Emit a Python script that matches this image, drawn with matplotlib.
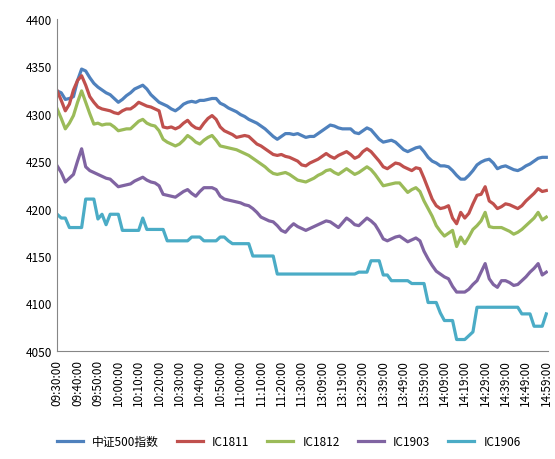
import matplotlib
matplotlib.use("Agg")
import matplotlib.pyplot as plt

plt.rcParams['font.family'] = ['Noto Sans CJK SC', 'DejaVu Sans']

times = ([f"{h:02d}:{m:02d}:00" for h in (9, 10, 11) for m in range(0, 60, 2)
          if (h, m) >= (9, 30) and (h, m) <= (11, 30)] +
         [f"{h:02d}:{m:02d}:00" for h in (13, 14) for m in range(1, 60, 2)])

zz500 = [4324,4322,4315,4316,4318,4335,4347,4345,4338,4332,
         4328,4325,4322,4320,4316,4312,4315,4319,4322,4326,
         4328,4330,4326,4320,4316,4312,4310,4308,4305,4303,
         4306,4310,4312,4313,4312,4314,4314,4315,4316,4316,
         4311,4309,4306,4304,4302,4299,4297,4294,4292,4290,
         4287,4284,4280,4276,4273,4276,4279,4279,4278,4279,
         4277,4275,4276,4276,4279,4282,4285,4288,4287,4285,
         4284,4284,4284,4280,4279,4282,4285,4283,4278,4273,
         4270,4271,4272,4270,4266,4262,4260,4262,4264,4265,
         4260,4254,4250,4248,4245,4245,4244,4240,4235,4231,
         4231,4235,4240,4246,4249,4251,4252,4248,4242,4244,
         4245,4243,4241,4240,4242,4245,4247,4250,4253,4254,4254]
ic1811 = [4324,4314,4303,4310,4325,4335,4340,4330,4318,4312,
          4307,4305,4304,4303,4301,4300,4303,4305,4305,4308,
          4312,4310,4308,4307,4305,4303,4286,4285,4286,4284,
          4286,4290,4293,4288,4285,4284,4290,4295,4298,4294,
          4286,4282,4280,4278,4275,4276,4277,4276,4272,4268,
          4266,4263,4260,4257,4256,4257,4255,4254,4252,4250,
          4246,4245,4248,4250,4252,4255,4258,4255,4253,4256,
          4258,4260,4257,4253,4255,4260,4263,4260,4255,4250,
          4244,4242,4245,4248,4247,4244,4242,4240,4243,4242,
          4232,4221,4210,4203,4200,4201,4203,4190,4184,4196,
          4190,4195,4205,4214,4215,4223,4208,4205,4200,4202,
          4205,4204,4202,4200,4203,4208,4212,4216,4221,4218,4219]
ic1812 = [4305,4295,4284,4290,4298,4312,4324,4312,4300,4289,
          4290,4288,4289,4289,4286,4282,4283,4284,4284,4288,
          4292,4294,4290,4288,4287,4282,4273,4270,4268,4266,
          4268,4272,4277,4274,4270,4268,4272,4275,4277,4272,
          4266,4265,4264,4263,4262,4260,4258,4256,4253,4250,
          4247,4244,4240,4237,4236,4237,4238,4236,4233,4230,
          4229,4228,4230,4232,4235,4237,4240,4241,4238,4236,
          4239,4242,4239,4236,4238,4241,4244,4241,4236,4230,
          4224,4225,4226,4227,4227,4222,4217,4220,4222,4218,
          4208,4200,4192,4182,4176,4171,4174,4177,4160,4170,
          4163,4170,4178,4182,4187,4196,4181,4180,4180,4180,
          4178,4176,4173,4175,4178,4182,4186,4190,4196,4188,4191]
ic1903 = [4245,4238,4228,4232,4236,4250,4263,4244,4240,4238,
          4236,4234,4232,4231,4227,4223,4224,4225,4226,4229,
          4231,4233,4230,4228,4227,4224,4215,4214,4213,4212,
          4215,4218,4220,4216,4213,4218,4222,4222,4222,4220,
          4213,4210,4209,4208,4207,4206,4204,4203,4200,4196,
          4191,4189,4187,4186,4182,4177,4175,4180,4184,4181,
          4179,4177,4179,4181,4183,4185,4187,4186,4183,4180,
          4185,4190,4187,4183,4182,4186,4190,4187,4183,4176,
          4168,4166,4168,4170,4171,4168,4165,4167,4169,4166,
          4155,4147,4140,4134,4131,4128,4126,4118,4112,4112,
          4112,4115,4120,4124,4133,4142,4126,4120,4117,4124,
          4124,4122,4119,4120,4124,4128,4133,4137,4142,4130,4133]
ic1906 = [4194,4190,4190,4180,4180,4180,4180,4210,4210,4210,
          4189,4194,4183,4194,4194,4194,4177,4177,4177,4177,
          4177,4190,4178,4178,4178,4178,4178,4166,4166,4166,
          4166,4166,4166,4170,4170,4170,4166,4166,4166,4166,
          4170,4170,4166,4163,4163,4163,4163,4163,4150,4150,
          4150,4150,4150,4150,4131,4131,4131,4131,4131,4131,
          4131,4131,4131,4131,4131,4131,4131,4131,4131,4131,
          4131,4131,4131,4131,4133,4133,4133,4145,4145,4145,
          4130,4130,4124,4124,4124,4124,4124,4121,4121,4121,
          4121,4101,4101,4101,4090,4082,4082,4082,4062,4062,
          4062,4066,4070,4096,4096,4096,4096,4096,4096,4096,
          4096,4096,4096,4096,4089,4089,4089,4076,4076,4076,4089]

names = ['中证500指数', 'IC1811', 'IC1812', 'IC1903', 'IC1906']
series = [zz500, ic1811, ic1812, ic1903, ic1906]
colors = ['#4F81BD', '#C0504D', '#9BBB59', '#8064A2', '#4BACC6']

fig = plt.figure(figsize=(5.55, 4.6), dpi=100)
ax = fig.add_axes([0.103, 0.235, 0.885, 0.722])
x = list(range(len(times)))
for n, s, c in zip(names, series, colors):
    ax.plot(x, s, color=c, lw=2.3, label=n, solid_joinstyle='round')

ax.set_xlim(0, len(times) - 0.5)
ax.set_ylim(4050, 4400)
ax.set_yticks(range(4050, 4401, 50))
ax.set_xticks(x[::5])
ax.set_xticklabels(times[::5], rotation=90)
ax.tick_params(axis='both', length=0, labelsize=8.5, colors='#000000')
ax.tick_params(axis='x', pad=6)
for sp in ['top', 'right']:
    ax.spines[sp].set_visible(False)
for sp in ['left', 'bottom']:
    ax.spines[sp].set_color('#868686')
fig.legend(loc='lower center', ncol=5, frameon=False, fontsize=8.5,
           bbox_to_anchor=(0.52, 0.0), handlelength=2.2, columnspacing=1.5)
fig.savefig('out.png', dpi=100)
